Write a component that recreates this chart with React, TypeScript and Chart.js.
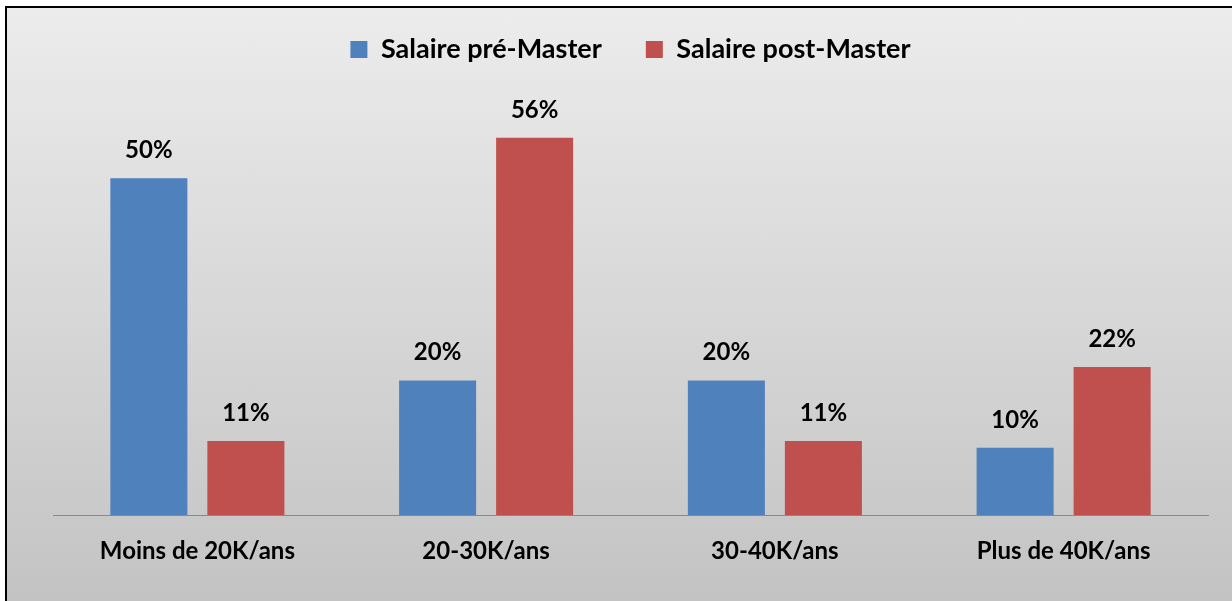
import React, { useEffect, useRef } from "react";
import { Chart, registerables } from "chart.js";

Chart.register(...registerables);

const categories = ["Moins de 20K/ans", "20-30K/ans", "30-40K/ans", "Plus de 40K/ans"];
const preMaster = [50, 20, 20, 10];
const postMaster = [11, 56, 11, 22];
const seriesNames = ["Salaire pré-Master", "Salaire post-Master"];

const FONT = "Lato";

const valueLabels = {
  id: "valueLabels",
  afterDatasetsDraw(chart: any) {
    const ctx = chart.ctx;
    ctx.save();
    ctx.font = `bold 24px ${FONT}`;
    ctx.fillStyle = "#000";
    ctx.textAlign = "center";
    ctx.textBaseline = "alphabetic";
    chart.data.datasets.forEach((ds: any, i: number) => {
      const meta = chart.getDatasetMeta(i);
      meta.data.forEach((el: any, j: number) => {
        ctx.fillText(`${ds.data[j]}%`, el.x, el.y - 20);
      });
    });
    ctx.restore();
  },
};

export default function App() {
  const ref = useRef<HTMLCanvasElement>(null);
  useEffect(() => {
    if (!ref.current) return;
    const chart = new Chart(ref.current, {
      type: "bar",
      data: {
        labels: categories,
        datasets: [
          { label: seriesNames[0], data: preMaster, backgroundColor: "#4F81BD", categoryPercentage: 0.672, barPercentage: 0.794 },
          { label: seriesNames[1], data: postMaster, backgroundColor: "#C0504D", categoryPercentage: 0.672, barPercentage: 0.794 },
        ],
      },
      options: {
        animation: false,
        responsive: false,
        maintainAspectRatio: false,
        layout: { padding: { left: 53, right: 24, top: -8, bottom: 13 } },
        plugins: {
          legend: {
            position: "top",
            labels: {
              boxWidth: 17,
              boxHeight: 17,
              padding: 44,
              color: "#000",
              font: { family: FONT, size: 27, weight: "bold" },
            },
          },
          tooltip: { enabled: false },
        },
        scales: {
          x: {
            grid: { display: false, drawTicks: false },
            border: { display: true, color: "#898989", width: 1 },
            ticks: { color: "#000", padding: 22, font: { family: FONT, size: 24, weight: "bold" } },
          },
          y: { display: false, min: 0, max: 65.6 },
        },
      },
      plugins: [valueLabels],
    });
    return () => chart.destroy();
  }, []);

  return (
    <div style={{ position: "fixed", left: 0, top: 0, width: 1232, height: 601, overflow: "hidden", background: "#fff" }}>
      <div
        style={{
          position: "absolute",
          left: 5,
          top: 6,
          width: 1240,
          height: 610,
          border: "2px solid #000",
          background: "linear-gradient(to bottom, #ececec 0%, #c2c2c2 100%)",
        }}
      />
      <canvas ref={ref} width={1232} height={601} style={{ position: "absolute", left: 0, top: 0 }} />
    </div>
  );
}
